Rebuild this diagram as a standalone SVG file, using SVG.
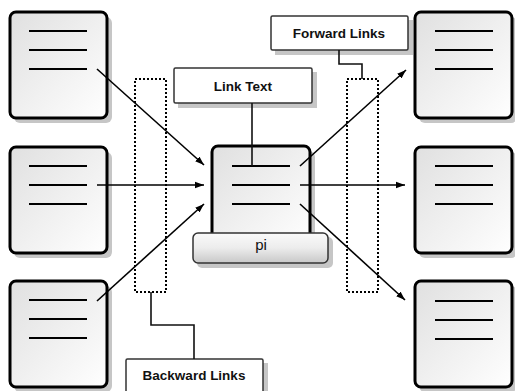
<svg xmlns="http://www.w3.org/2000/svg" width="515" height="391" viewBox="0 0 515 391">
<defs>
<linearGradient id="docGrad" x1="0" y1="0" x2="1" y2="1">
<stop offset="0" stop-color="#e0e0e0"/>
<stop offset="1" stop-color="#ffffff"/>
</linearGradient>
<linearGradient id="piGrad" x1="0" y1="0" x2="0" y2="1">
<stop offset="0" stop-color="#fafafa"/>
<stop offset="0.5" stop-color="#ececec"/>
<stop offset="1" stop-color="#c8c8c8"/>
</linearGradient>
<marker id="arr" markerUnits="userSpaceOnUse" markerWidth="10" markerHeight="8" refX="9" refY="4" orient="auto">
<path d="M0,0.8 L9,4 L0,7.2 Z" fill="#000"/>
</marker>
<style>
.doc{fill:url(#docGrad);stroke:#000;stroke-width:3}
.shadow{fill:#c6c6c6}
.ln{stroke:#000;stroke-width:2}
.lbl{fill:#fff;stroke:#333;stroke-width:1.5}
.dot{fill:none;stroke:#000;stroke-width:2;stroke-dasharray:2 2}
.txt{font-family:"Liberation Sans",Arial,sans-serif;font-size:13.5px;font-weight:bold;fill:#111;text-anchor:middle}
.ptxt{font-family:"Liberation Sans",Arial,sans-serif;font-size:15px;fill:#111;text-anchor:middle}
.conn{stroke:#000;stroke-width:1.6;fill:none}
.call{stroke:#111;stroke-width:1.6;fill:none}
</style>
</defs>
<g id="doc-left-top">
<rect class="shadow" x="14" y="17" width="98" height="106" rx="6"/>
<rect class="doc" x="10" y="12" width="97" height="106" rx="6"/>
<line class="ln" x1="29" y1="31" x2="87" y2="31"/><line class="ln" x1="29" y1="50" x2="87" y2="50"/><line class="ln" x1="29" y1="69" x2="87" y2="69"/>
</g>
<g id="doc-left-mid">
<rect class="shadow" x="14" y="152" width="98" height="106" rx="6"/>
<rect class="doc" x="10" y="147" width="97" height="106" rx="6"/>
<line class="ln" x1="29" y1="166" x2="87" y2="166"/><line class="ln" x1="29" y1="185" x2="87" y2="185"/><line class="ln" x1="29" y1="204" x2="87" y2="204"/>
</g>
<g id="doc-left-bot">
<rect class="shadow" x="14" y="286" width="98" height="106" rx="6"/>
<rect class="doc" x="10" y="281" width="97" height="106" rx="6"/>
<line class="ln" x1="29" y1="300" x2="87" y2="300"/><line class="ln" x1="29" y1="319" x2="87" y2="319"/><line class="ln" x1="29" y1="338" x2="87" y2="338"/>
</g>
<g id="doc-right-top">
<rect class="shadow" x="419" y="17" width="98" height="106" rx="6"/>
<rect class="doc" x="415" y="12" width="97" height="106" rx="6"/>
<line class="ln" x1="435" y1="31" x2="493" y2="31"/><line class="ln" x1="435" y1="50" x2="493" y2="50"/><line class="ln" x1="435" y1="69" x2="493" y2="69"/>
</g>
<g id="doc-right-mid">
<rect class="shadow" x="419" y="152" width="98" height="106" rx="6"/>
<rect class="doc" x="415" y="147" width="97" height="106" rx="6"/>
<line class="ln" x1="435" y1="166" x2="493" y2="166"/><line class="ln" x1="435" y1="185" x2="493" y2="185"/><line class="ln" x1="435" y1="204" x2="493" y2="204"/>
</g>
<g id="doc-right-bot">
<rect class="shadow" x="419" y="286" width="98" height="106" rx="6"/>
<rect class="doc" x="415" y="281" width="97" height="106" rx="6"/>
<line class="ln" x1="435" y1="301" x2="493" y2="301"/><line class="ln" x1="435" y1="320" x2="493" y2="320"/><line class="ln" x1="435" y1="339" x2="493" y2="339"/>
</g>
<g id="backward-region">
<rect class="dot" x="135" y="79" width="31" height="213"/>
</g>
<g id="forward-region">
<rect class="dot" x="347" y="79" width="31" height="213"/>
</g>
<g id="link-text">
<rect class="shadow" x="178" y="72" width="139" height="36"/>
<rect class="lbl" x="174" y="68" width="138" height="35" rx="1.5"/>
<text class="txt" x="243" y="91">Link Text</text>
</g>
<g id="forward-links">
<rect class="shadow" x="275" y="20" width="138" height="35"/>
<rect class="lbl" x="271" y="16" width="137" height="34" rx="1.5"/>
<text class="txt" x="339" y="38">Forward Links</text>
</g>
<g id="backward-links">
<rect class="shadow" x="130" y="363" width="138" height="35"/>
<rect class="lbl" x="126" y="359" width="137" height="40" rx="1.5"/>
<text class="txt" x="194" y="380">Backward Links</text>
</g>
<g id="center-doc">
<rect class="shadow" x="216" y="151" width="99" height="90" rx="6"/>
<rect class="doc" x="212" y="146" width="98" height="100" rx="6"/>
<line class="ln" x1="232" y1="166" x2="290" y2="166"/><line class="ln" x1="232" y1="185" x2="290" y2="185"/><line class="ln" x1="232" y1="204" x2="290" y2="204"/>
</g>
<g id="pi">
<rect class="shadow" x="197" y="237" width="136" height="31" rx="5"/>
<rect x="193" y="233" width="135" height="30" rx="5" fill="url(#piGrad)" stroke="#333" stroke-width="1.5"/>
<text class="ptxt" x="261" y="250">pi</text>
</g>
<g id="connectors">
<line class="conn" x1="97" y1="69" x2="204" y2="165" marker-end="url(#arr)"/>
<line class="conn" x1="97" y1="185" x2="204" y2="185" marker-end="url(#arr)"/>
<line class="conn" x1="97" y1="301" x2="204" y2="204" marker-end="url(#arr)"/>
<line class="conn" x1="300" y1="166" x2="406" y2="70" marker-end="url(#arr)"/>
<line class="conn" x1="300" y1="185" x2="405" y2="185" marker-end="url(#arr)"/>
<line class="conn" x1="300" y1="204" x2="405" y2="300" marker-end="url(#arr)"/>
<polyline class="call" points="252,103 252,166"/>
<polyline class="call" points="339,50 339,64 362,64 362,79"/>
<polyline class="call" points="151,292 151,325 194,325 194,359"/>
</g>
</svg>
